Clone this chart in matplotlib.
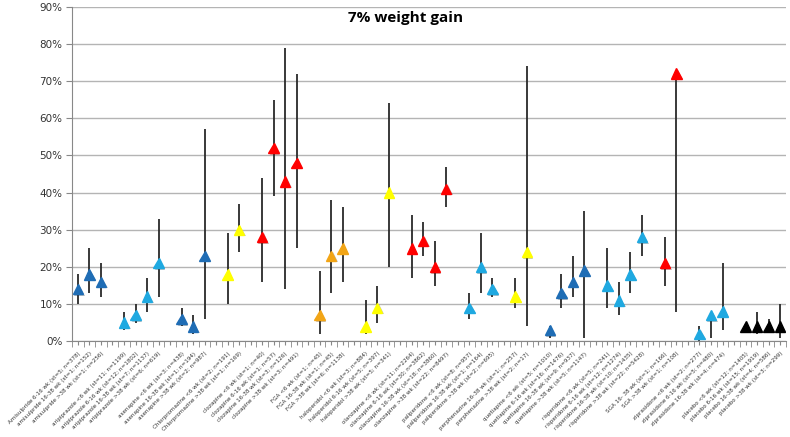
import numpy as np
import matplotlib
matplotlib.use("Agg")
import matplotlib.pyplot as plt
import matplotlib.patheffects as pe

# categories (blank entries are the empty rows between drugs)
labels = [
    "Amisulpride 6-16 wk (st=5; n=378)", "amisulpride 16-38 wk (st=1; n=152)", "amisulpride >38 wk (st=1; n=256)", "",
    "aripiprazole <6 wk (st=11; n=1199)", "aripiprazole 6-16 wk (st=12; n=1802)", "aripiprazole 16-38 wk (st=7; n=1137)", "aripiprazole >38 wk (st=6; n=619)", "",
    "asenapine <6 wk (st=3; n=438)", "asenapine 16-38 wk (st=1; n=194)", "asenapine >38 wk (st=2; n=987)", "",
    "Chlorpromazine <6 wk (st=2; n=191)", "Chlorpromazine >38 wk (st=1; n=169)", "",
    "clozapine <6 wk (st=1; n=40)", "clozapine 6-16 wk (st=1; n=57)", "clozapine 16-38 wk (st=3; n=126)", "clozapine >38 wk (st=3; n=491)", "",
    "FGA <6 wk (st=1; n=45)", "FGA 16-38 wk (st=1; n=45)", "FGA >38 wk (st=6; n=1138)", "",
    "haloperidol <6 wk (st=3; n=884)", "haloperidol 6-16 wk (st=5; n=397)", "haloperidol >38 wk (st=5; n=341)", "",
    "olanzapine <6 wk (st=11; n=2264)", "olanzapine 6-16 wk (st=30; n=3862)", "olanzapine 16-38 wk (st=18; n=3860)", "olanzapine >38 wk (st=22; n=8497)", "",
    "paliperidone <6 wk (st=8; n=957)", "paliperidone 16-38 wk (st=1; n=164)", "paliperidone >38 wk (st=2; n=695)", "",
    "perphenazine 16-38 wk (st=1; n=257)", "perphenazine >38 wk (st=2; n=17)", "",
    "quetiapine <6 wk (st=5; n=1010)", "quetiapine 6-16 wk (st=16; n=1476)", "quetiapine 16-38 wk (st=9; n=937)", "quetiapine >38 wk (st=5; n=1147)", "",
    "risperidone <6 wk (st=5; n=241)", "risperidone 6-16 wk (st=12; n=1274)", "risperidone 16-38 wk (st=10; n=1435)", "risperidone >38 wk (st=22; n=5428)", "",
    "SGA 16- 38 wk (st=1; n=166)", "SGA >38 wk (st=1; n=108)", "",
    "ziprasidone <6 wk (st=2; n=277)", "ziprasidone 6-16 wk (st=5; n=480)", "ziprasidone 16-38 wk (st=4; n=474)", "",
    "placebo <6 wk (st=12; n=1405)", "placebo 6-16 wk (st=15; n=1919)", "placebo 16-38 wk (st=4; n=586)", "placebo >38 wk (st=3; n=299)",
]

N = None
# proportion with 7% weight gain (%)
value = [14, 18, 16, N,
         5, 7, 12, 21, N,
         6, 4, 23, N,
         18, 30, N,
         28, 52, 43, 48, N,
         7, 23, 25, N,
         4, 9, 40, N,
         25, 27, 20, 41, N,
         9, 20, 14, N,
         12, 24, N,
         3, 13, 16, 19, N,
         15, 11, 18, 28, N,
         21, 72, N,
         2, 7, 8, N,
         4, 4, 4, 4]
lower = [10, 13, 12, N,
         3, 5, 8, 12, N,
         4, 2, 6, N,
         10, 24, N,
         16, 39, 14, 25, N,
         2, 13, 16, N,
         2, 5, 20, N,
         17, 23, 15, 36, N,
         6, 13, 12, N,
         9, 4, N,
         1, 9, 12, 1, N,
         9, 7, 13, 23, N,
         15, 8, N,
         0, 1, 3, N,
         3, 2, 3, 1]
upper = [18, 25, 21, N,
         8, 10, 17, 33, N,
         9, 7, 57, N,
         29, 37, N,
         44, 65, 79, 72, N,
         19, 38, 36, N,
         11, 15, 64, N,
         34, 32, 27, 47, N,
         13, 29, 17, N,
         17, 74, N,
         4, 18, 23, 35, N,
         25, 16, 24, 34, N,
         28, 72, N,
         4, 8, 21, N,
         5, 8, 6, 10]
group = ["SGA1"] * 4 + ["SGA2"] * 5 + ["SGA1"] * 4 + ["FGAy"] * 3 + ["SGAr"] * 5 + ["FGAo"] * 4 + \
        ["FGAy"] * 4 + ["SGAr"] * 5 + ["SGA2"] * 4 + ["FGAy"] * 3 + ["SGA1"] * 5 + ["SGA2"] * 5 + \
        ["SGAr"] * 3 + ["SGA2"] * 4 + ["plac"] * 4
group_color = {"SGA1": "#1f6db5", "SGA2": "#1fa9e1", "FGAy": "#ffff00",
               "SGAr": "#ff0000", "FGAo": "#f2a516", "plac": "#000000"}

x = np.arange(len(labels))
val = np.array([np.nan if v is None else v for v in value], float) / 100
lo = np.array([np.nan if v is None else v for v in lower], float) / 100
hi = np.array([np.nan if v is None else v for v in upper], float) / 100

fig = plt.figure(figsize=(7.9, 4.37), dpi=100)
ax = fig.add_axes([0.0914, 0.219, 0.9033, 0.7658])

ax.yaxis.grid(True, color="#b4b4b4", lw=1)
ax.set_axisbelow(True)

ok = ~np.isnan(val)
ax.vlines(x[ok], lo[ok], hi[ok], color="#2a2a2a", lw=1.3, zorder=2)
shadow = [pe.SimplePatchShadow(offset=(1.0, -1.0), alpha=0.3), pe.Normal()]
for xi, v, g in zip(x, val, group):
    if np.isnan(v):
        continue
    ax.plot(xi, v, marker="^", ms=7.5, color=group_color[g], mec=group_color[g],
            ls="none", zorder=3, path_effects=shadow)

ax.set_xlim(-0.5, len(labels) - 0.5)
ax.set_ylim(0, 0.9)
ax.set_yticks(np.arange(0, 0.91, 0.1))
ax.set_yticklabels([f"{int(round(t * 100))}%" for t in np.arange(0, 0.91, 0.1)],
                   fontsize=7.5, color="#333333")
ax.tick_params(axis="y", length=4, color="#888888", pad=3)

ax.set_xticks(x)
ax.set_xticklabels(labels, rotation=45, ha="right", rotation_mode="anchor",
                   fontsize=4.1, color="#333333")
ax.tick_params(axis="x", length=3, color="#888888", pad=4)
ax.set_xticks(np.arange(-0.5, len(labels), 1), minor=True)
ax.tick_params(axis="x", which="minor", length=4, color="#888888")

for s in ["top", "right"]:
    ax.spines[s].set_visible(False)
for s in ["left", "bottom"]:
    ax.spines[s].set_color("#888888")

fig.text(0.513, 0.958, "7% weight gain", ha="center", va="center",
         fontsize=11, fontweight="bold", family="Open Sans")

fig.savefig("out.png", dpi=100)
